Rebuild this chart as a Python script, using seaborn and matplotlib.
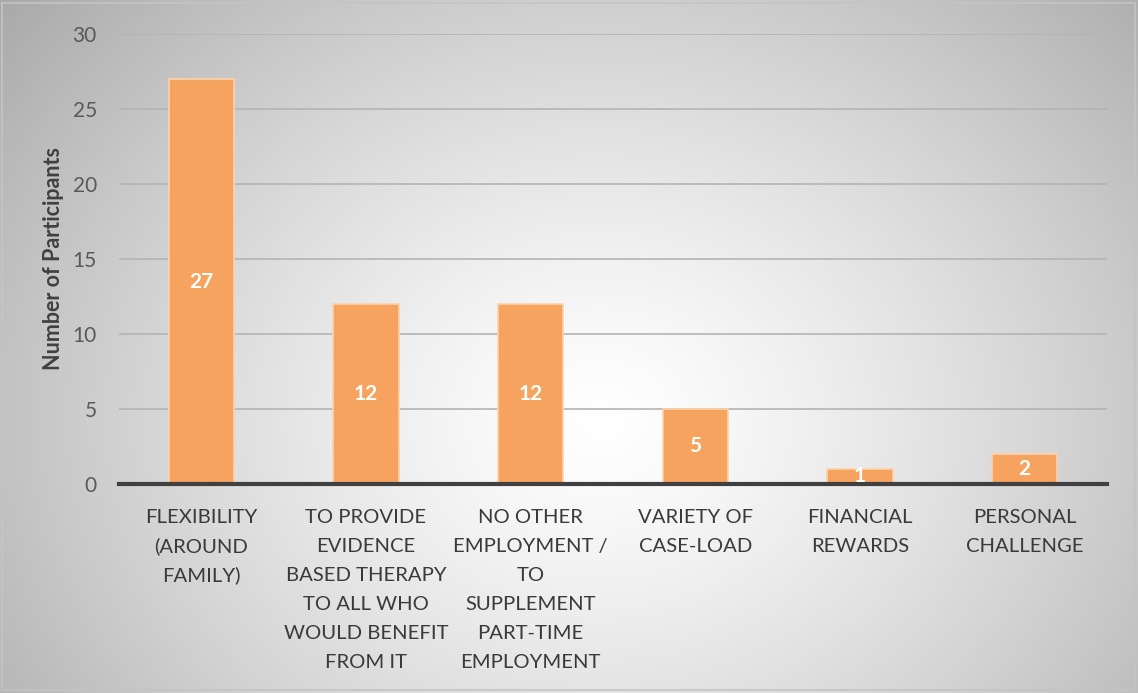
import numpy as np
import matplotlib
matplotlib.use("Agg")
import matplotlib.pyplot as plt
import seaborn as sns

categories = [
    "FLEXIBILITY\n(AROUND\nFAMILY)",
    "TO PROVIDE\nEVIDENCE\nBASED THERAPY\nTO ALL WHO\nWOULD BENEFIT\nFROM IT",
    "NO OTHER\nEMPLOYMENT /\nTO\nSUPPLEMENT\nPART-TIME\nEMPLOYMENT",
    "VARIETY OF\nCASE-LOAD",
    "FINANCIAL\nREWARDS",
    "PERSONAL\nCHALLENGE",
]
participants = [27, 12, 12, 5, 1, 2]
y_ticks = [0, 5, 10, 15, 20, 25, 30]
y_label = "Number of Participants"

sns.set_theme(style="white")
plt.rcParams["font.family"] = ["Lato", "DejaVu Sans"]

W, H = 1138, 693
fig = plt.figure(figsize=(W / 100, H / 100), dpi=100)

# radial grey-to-white background behind the whole chart
bg = fig.add_axes([0, 0, 1, 1], zorder=-10)
yy, xx = np.mgrid[0:H, 0:W]
cx, cy = 600, 420
r = np.sqrt(((xx - cx) / 620.0) ** 2 + ((yy - cy) / 520.0) ** 2)
shade = np.clip(1.0 - 0.25 * np.clip(r, 0, 1.3) ** 1.3, 0, 1)
bg.imshow(np.dstack([shade] * 3), extent=[0, W, H, 0], aspect="auto")
bg.set_xlim(0, W)
bg.set_ylim(H, 0)
bg.plot([2, W - 3, W - 3, 2, 2], [3, 3, H - 3, H - 3, 3], color="#c4c4c4", lw=1.2)
bg.axis("off")

ax = fig.add_axes([119 / W, 1 - 484 / H, (1107 - 119) / W, (484 - 34) / H])
ax.patch.set_alpha(0)

sns.barplot(x=list(range(len(participants))), y=participants, color="#F5A35E",
            width=0.395, saturation=1, edgecolor="#FBD3AE", linewidth=1.2,
            ax=ax, zorder=3)

ax.set_ylim(0, 30)
ax.set_xlim(-0.5, len(categories) - 0.5)
ax.set_yticks(y_ticks)
ax.yaxis.grid(True, color="#b4b4b4", lw=1.2, zorder=0)
ax.set_axisbelow(True)
for s in ["top", "right", "left"]:
    ax.spines[s].set_visible(False)
ax.spines["bottom"].set_color("#404040")
ax.spines["bottom"].set_linewidth(3)
ax.spines["bottom"].set_zorder(4)

# category labels: one text per line so every row sits on an even baseline grid
ax.set_xticks(range(len(categories)))
ax.set_xticklabels([])
ax.tick_params(axis="x", length=0)
first_baseline, row_step = 39, 29
for i, label in enumerate(categories):
    for j, line in enumerate(label.split("\n")):
        ax.annotate(line, xy=(i, 0), xycoords=("data", "axes fraction"),
                    xytext=(0, -(first_baseline + j * row_step)),
                    textcoords="offset pixels", ha="center", va="baseline",
                    fontsize=14.6, color="#3a3a3a", annotation_clip=False)

ax.tick_params(axis="y", length=0, pad=16, labelsize=15, labelcolor="#595959")

ax.set_ylabel(y_label, fontsize=15.5, fontweight="bold", color="#404040")
ax.yaxis.set_label_coords(-0.056, 0.5)

for i, v in enumerate(participants):
    ax.text(i, v / 2, str(v), ha="center", va="center", color="white",
            fontsize=15, fontweight="bold", zorder=5)

fig.savefig("out.png", dpi=100)
